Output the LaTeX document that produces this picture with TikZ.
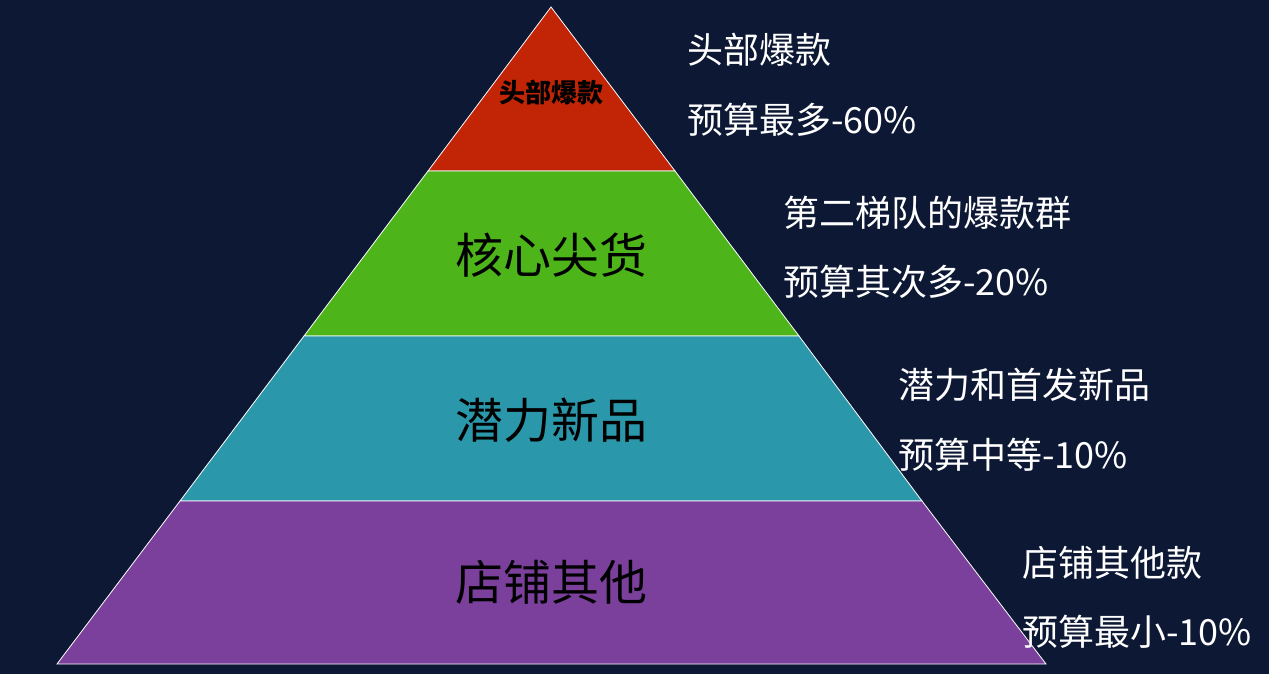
\documentclass[tikz,border=0pt]{standalone}
\usepackage{fontspec}
\newfontfamily\cjk{Noto Sans CJK SC}
\definecolor{bg}{HTML}{0D1834}
\definecolor{lr}{HTML}{C22406}
\definecolor{lg}{HTML}{4DB51A}
\definecolor{lt}{HTML}{2A98AA}
\definecolor{lp}{HTML}{7B3F9C}
\begin{document}
\begin{tikzpicture}[x=1pt,y=-1pt,
  layer/.style={draw=white,line width=0.8pt},
  big/.style={font=\cjk\fontsize{48}{50}\selectfont,text=black},
  side/.style={font=\cjk\fontsize{36}{40}\selectfont,text=white,anchor=west,inner sep=0pt}]
\fill[bg] (0,0) rectangle (1269,674);
\useasboundingbox (0,0) rectangle (1269,674);
\coordinate (A) at (551,7);
\fill[lr,layer] (A) -- (675,171) -- (428,171) -- cycle;
\fill[lg,layer] (428,171) -- (675,171) -- (799,336) -- (304,336) -- cycle;
\fill[lt,layer] (304,336) -- (799,336) -- (922,501) -- (180,501) -- cycle;
\fill[lp,layer] (180,501) -- (922,501) -- (1046,664) -- (57,664) -- cycle;
\node[font=\cjk\bfseries\fontsize{26}{28}\selectfont,text=black] (t1) at (551,93) {头部爆款};
\node[big] (t2) at (551,255) {核心尖货};
\node[big] (t3) at (551,420) {潜力新品};
\node[big] (t4) at (551,582) {店铺其他};
\node[side] (r1a) at (687,50) {头部爆款};
\node[side] (r1b) at (687,120) {预算最多-60\%};
\node[side] (r2a) at (783,213) {第二梯队的爆款群};
\node[side] (r2b) at (783,282) {预算其次多-20\%};
\node[side] (r3a) at (898,385) {潜力和首发新品};
\node[side] (r3b) at (898,455) {预算中等-10\%};
\node[side] (r4a) at (1022,563) {店铺其他款};
\node[side] (r4b) at (1022,632) {预算最小-10\%};
\end{tikzpicture}
\end{document}
